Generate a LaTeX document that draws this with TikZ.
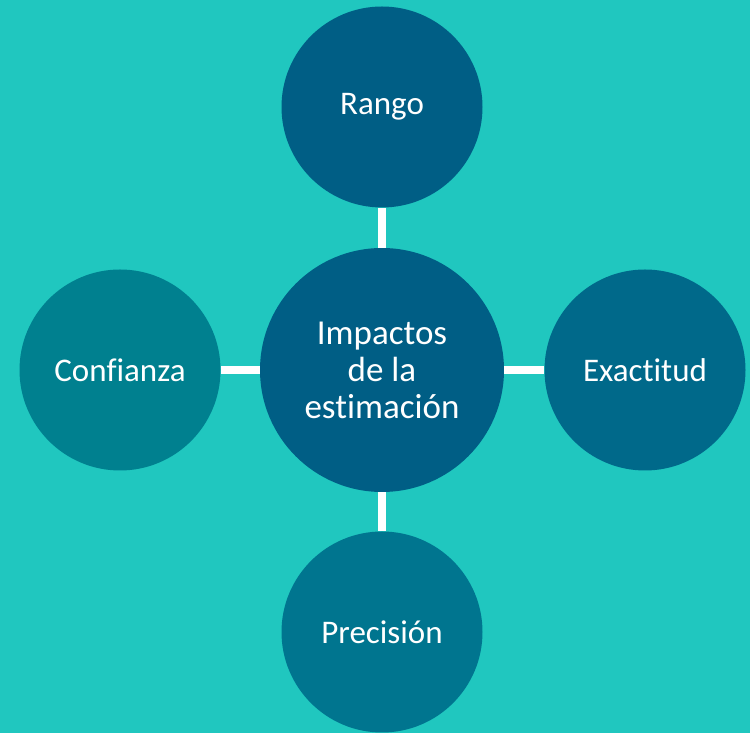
\documentclass[tikz,border=0pt]{standalone}
\usepackage{fontspec}
\setmainfont[Ligatures=NoCommon]{Carlito}
\usetikzlibrary{positioning}
\definecolor{fondo}{HTML}{20C7BF}
\definecolor{azulc}{HTML}{005E85}
\definecolor{azulr}{HTML}{00698A}
\definecolor{azulb}{HTML}{00758F}
\definecolor{azull}{HTML}{00808F}

\begin{document}
\begin{tikzpicture}[x=1pt,y=1pt,
    circulo/.style={circle,inner sep=0pt,text=white,align=center,
      minimum size=201pt,font=\fontsize{33}{37}\selectfont},
    enlace/.style={draw=white,line width=8pt}]
    \fill[fondo] (0,0) rectangle (750,733);
    \useasboundingbox (0,0) rectangle (750,733);
    \node[circulo,fill=azulc,minimum size=244pt,
      font=\fontsize{35}{37}\selectfont] (imp) at (382,363)
      {Impactos\\de la\\estimación};
    \node[circulo,fill=azulc] (rango) at (382,626) {Rango};
    \node[circulo,fill=azull] (conf) at (120,363) {Confianza};
    \node[circulo,fill=azulr] (exac) at (645,363) {Exactitud};
    \node[circulo,fill=azulb] (prec) at (382,101) {Precisión};
    \draw[enlace] (imp) -- (rango);
    \draw[enlace] (imp) -- (conf);
    \draw[enlace] (imp) -- (exac);
    \draw[enlace] (imp) -- (prec);
  \end{tikzpicture}
\end{document}
